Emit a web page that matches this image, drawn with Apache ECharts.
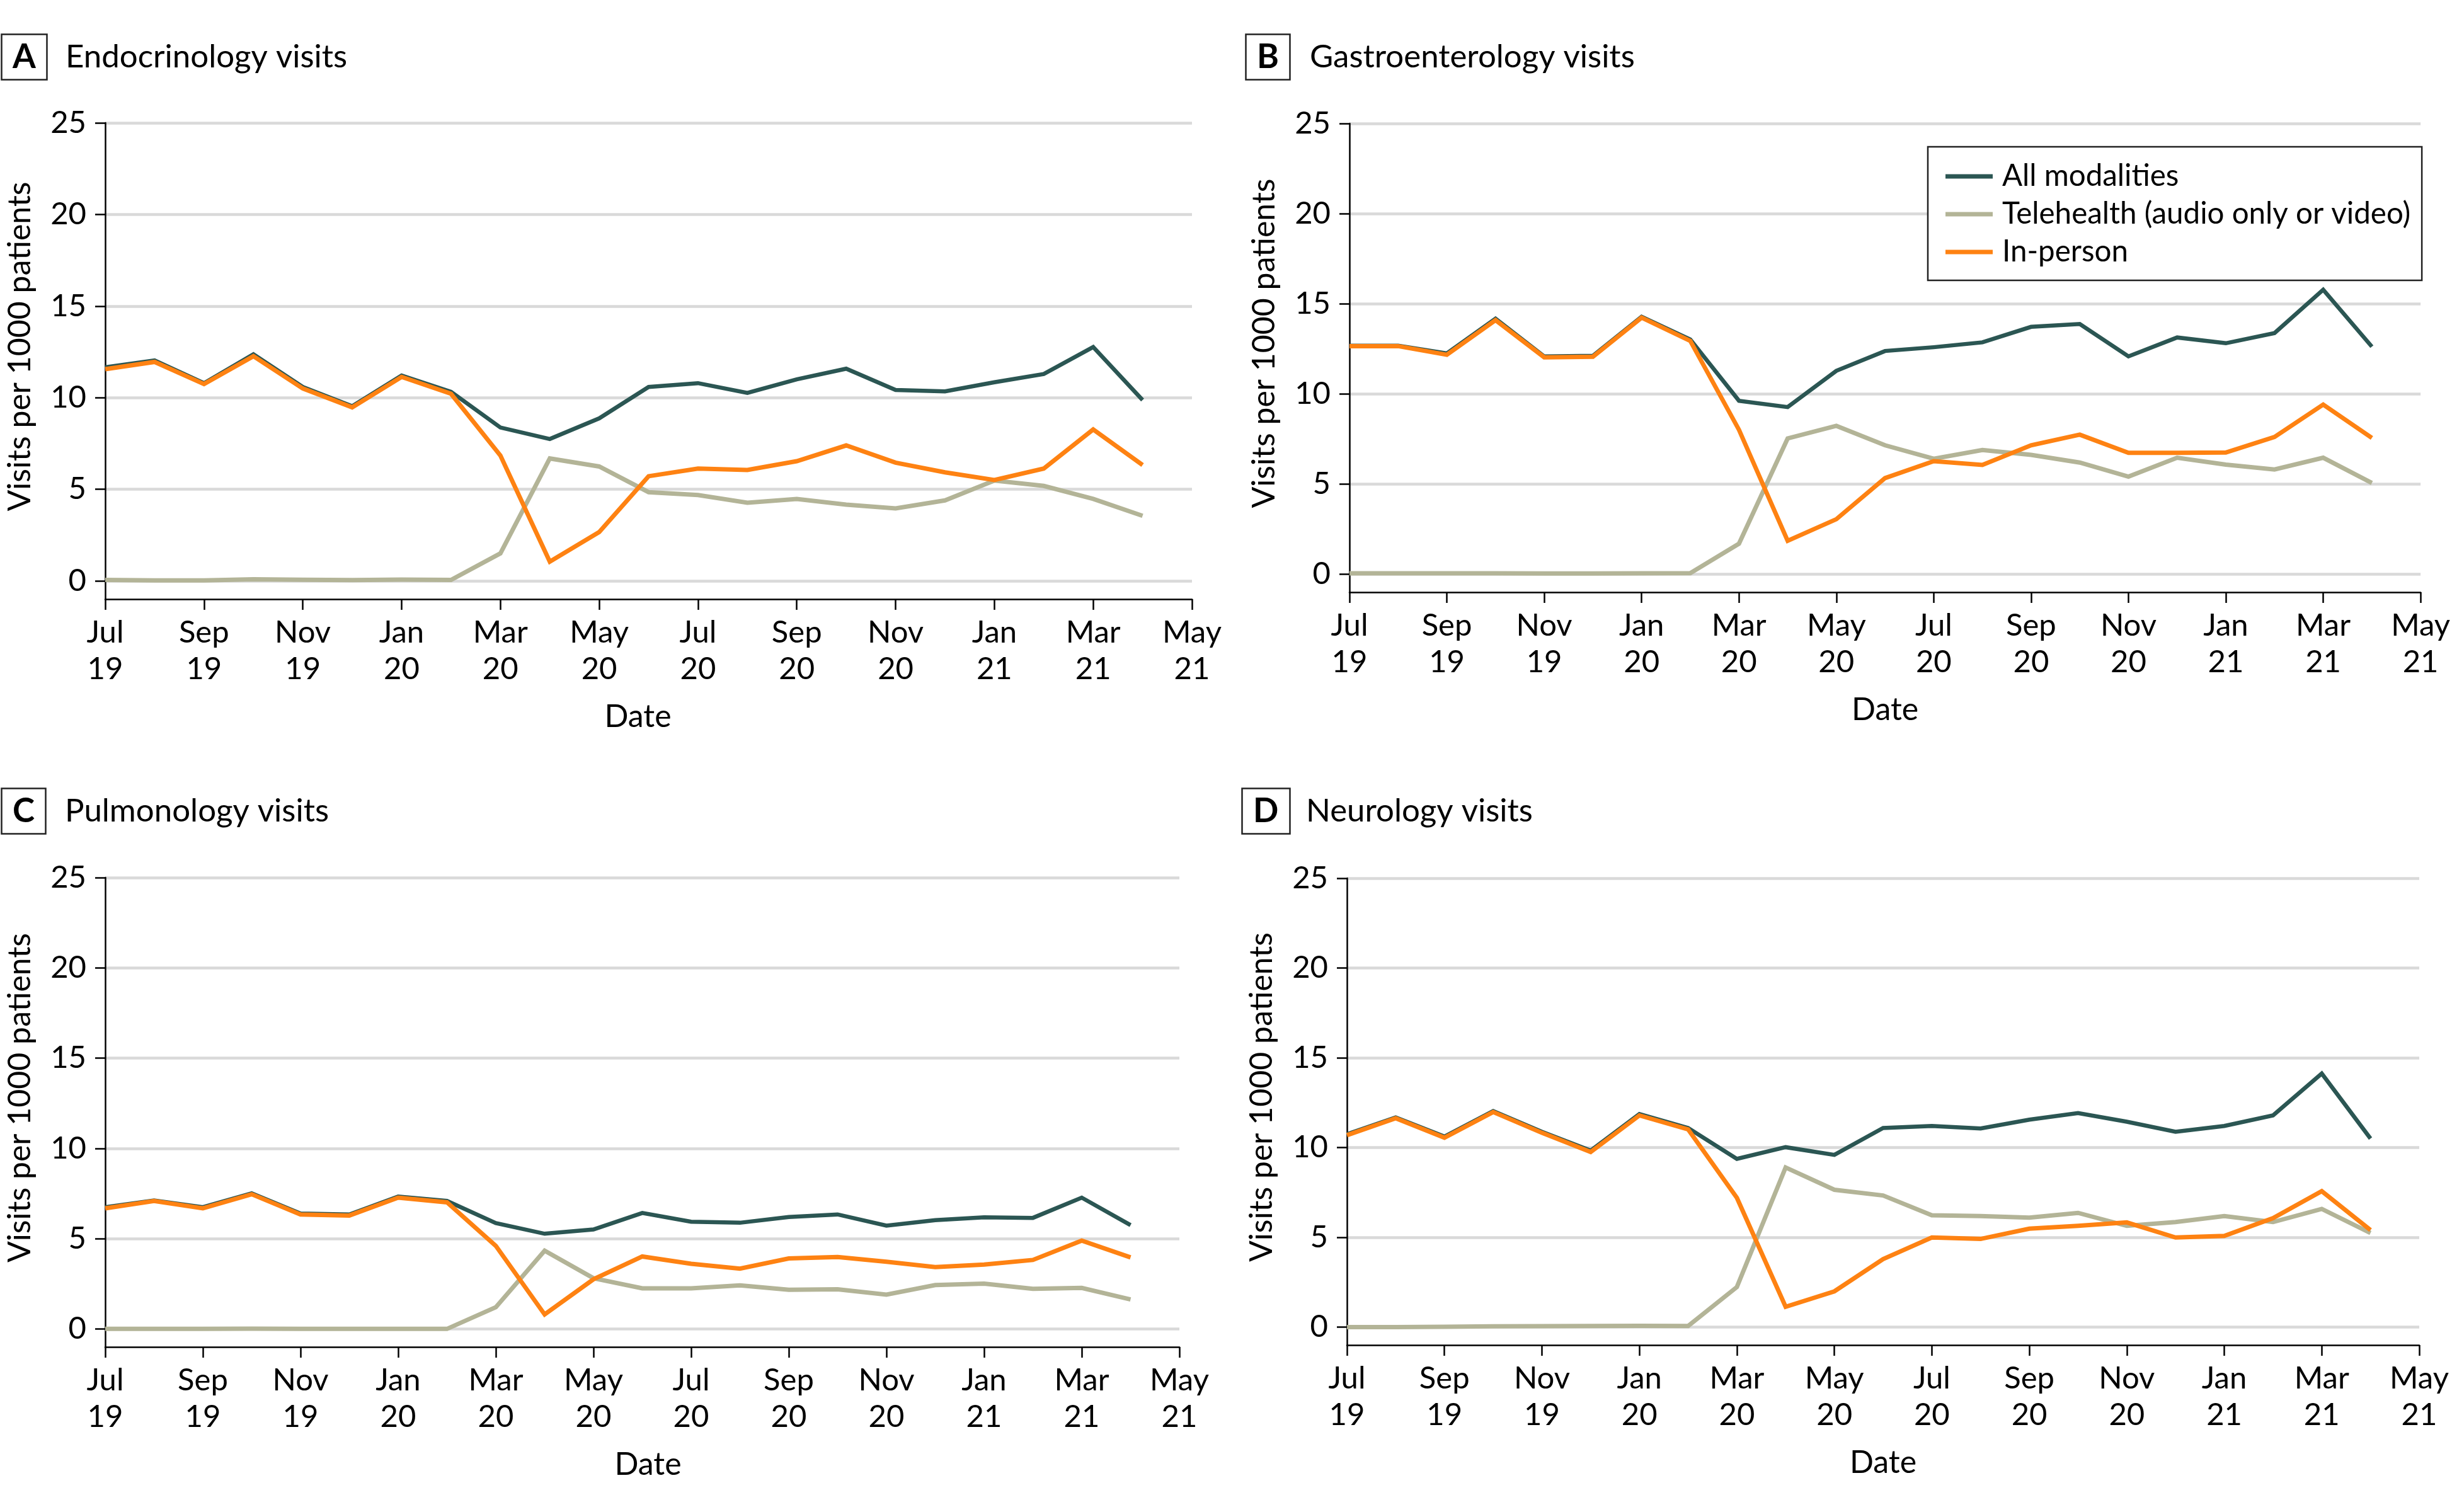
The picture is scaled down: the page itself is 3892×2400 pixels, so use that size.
<!DOCTYPE html>
<html>
<head>
<meta charset="utf-8">
<script src="https://cdn.jsdelivr.net/npm/echarts@6/dist/echarts.min.js"></script>
<style>
html,body{margin:0;padding:0;background:#fff;}
#chart{width:3892px;height:2400px;}
</style>
</head>
<body>
<div id="chart"></div>
<script>
// ---- data ----
const months = ['Jul\n19','Aug\n19','Sep\n19','Oct\n19','Nov\n19','Dec\n19','Jan\n20','Feb\n20','Mar\n20','Apr\n20','May\n20','Jun\n20',
  'Jul\n20','Aug\n20','Sep\n20','Oct\n20','Nov\n20','Dec\n20','Jan\n21','Feb\n21','Mar\n21','Apr\n21','May\n21'];
const yTicks = [0, 5, 10, 15, 20, 25];
const seriesNames = ['All modalities', 'Telehealth (audio only or video)', 'In-person'];
const panelTitles = ['Endocrinology visits', 'Gastroenterology visits', 'Pulmonology visits', 'Neurology visits'];
const panelLetters = ['A', 'B', 'C', 'D'];

// A: Endocrinology
const endoAll      = [11.66,12.03,10.79,12.37,10.58,9.53,11.21,10.32,8.37,7.74,8.87,10.58,10.79,10.26,11.0,11.58,10.42,10.34,10.84,11.29,12.76,9.87];
const endoTele     = [0.05,0.02,0.02,0.08,0.06,0.04,0.07,0.05,1.5,6.68,6.24,4.84,4.68,4.26,4.47,4.16,3.95,4.39,5.47,5.18,4.47,3.55];
const endoInPerson = [11.55,11.95,10.74,12.26,10.5,9.47,11.13,10.21,6.84,1.05,2.66,5.71,6.13,6.05,6.53,7.39,6.45,5.92,5.5,6.13,8.26,6.32];
// B: Gastroenterology
const gastroAll      = [12.67,12.67,12.25,14.17,12.08,12.11,14.28,13.02,9.62,9.27,11.28,12.38,12.59,12.86,13.72,13.88,12.08,13.13,12.81,13.37,15.78,12.62];
const gastroTele     = [0.05,0.05,0.05,0.05,0.04,0.04,0.05,0.06,1.69,7.53,8.23,7.15,6.4,6.89,6.62,6.19,5.41,6.46,6.08,5.81,6.46,5.06];
const gastroInPerson = [12.65,12.65,12.17,14.09,12.03,12.06,14.23,12.94,8.01,1.85,3.05,5.33,6.27,6.06,7.15,7.74,6.73,6.73,6.75,7.61,9.41,7.56];
// C: Pulmonology
const pulmAll      = [6.74,7.11,6.74,7.51,6.39,6.34,7.33,7.09,5.86,5.27,5.51,6.42,5.94,5.88,6.2,6.34,5.72,6.02,6.18,6.15,7.27,5.75];
const pulmTele     = [0.0,0.0,0.0,0.01,0.0,0.0,0.0,0.0,1.2,4.33,2.81,2.25,2.25,2.41,2.17,2.19,1.9,2.43,2.51,2.22,2.27,1.63];
const pulmInPerson = [6.68,7.09,6.68,7.46,6.34,6.28,7.27,7.01,4.6,0.8,2.75,4.01,3.61,3.34,3.9,3.98,3.72,3.42,3.56,3.82,4.89,3.96];
// D: Neurology
const neuroAll      = [10.74,11.68,10.61,12.03,10.88,9.83,11.87,11.09,9.37,10.02,9.59,11.09,11.2,11.06,11.55,11.92,11.44,10.88,11.2,11.79,14.12,10.5];
const neuroTele     = [0.0,0.0,0.02,0.04,0.05,0.06,0.07,0.06,2.23,8.89,7.65,7.33,6.23,6.18,6.1,6.36,5.64,5.85,6.18,5.85,6.58,5.24];
const neuroInPerson = [10.69,11.63,10.55,11.98,10.82,9.75,11.79,11.01,7.2,1.13,1.99,3.79,4.99,4.91,5.48,5.64,5.83,4.99,5.08,6.07,7.57,5.4];

const panelData = [
  [endoAll, endoTele, endoInPerson],
  [gastroAll, gastroTele, gastroInPerson],
  [pulmAll, pulmTele, pulmInPerson],
  [neuroAll, neuroTele, neuroInPerson]
];

// ---- styles / layout ----
const FONT = 'Lato';
const colors = ['#2b5653', '#b3b497', '#fe8212'];
const widths = [6.5, 7, 7];
const W = 3892, H = 2400;
const gridBoxes = [
  {l: 167,  r: 1892, t: 195,  b: 951},
  {l: 2142, r: 3850, t: 196,  b: 940},
  {l: 167,  r: 1872, t: 1393, b: 2138},
  {l: 2138, r: 3840, t: 1394, b: 2135}
];
const datePad = [[0, 34, 0, 0], [0, 0, 0, 0], [0, 0, 0, 18], [0, 0, 0, 0]];
const titleBoxPos = [
  {x: 2, y: 54, tx: 104, ty: 65},
  {x: 1977, y: 54, tx: 2079, ty: 65},
  {x: 2, y: 1251, tx: 103, ty: 1262},
  {x: 1971, y: 1251, tx: 2073, ty: 1262}
];

const grid = [], xAxis = [], yAxis = [], series = [], title = [];
gridBoxes.forEach((g, i) => {
  grid.push({left: g.l, right: W - g.r, top: g.t, bottom: H - g.b, containLabel: false});
  xAxis.push({
    type: 'category', gridIndex: i, data: months, boundaryGap: false,
    axisLine: {show: true, onZero: false, lineStyle: {color: '#000', width: 2.5}},
    axisTick: {show: true, interval: 1, length: 17, lineStyle: {color: '#000', width: 2.5}},
    axisLabel: {interval: 1, fontSize: 49, lineHeight: 58, margin: 24, color: '#000', fontFamily: FONT},
    splitLine: {show: false},
    name: 'Date', nameLocation: 'middle', nameGap: 162,
    nameTextStyle: {fontSize: 50, color: '#000', fontFamily: FONT, padding: datePad[i]}
  });
  yAxis.push({
    type: 'value', gridIndex: i, min: -1, max: 25, interval: 1,
    axisLine: {show: true, lineStyle: {color: '#000', width: 2.5}},
    axisTick: {show: true, customValues: yTicks, length: 16, lineStyle: {color: '#000', width: 2.5}},
    axisLabel: {customValues: yTicks, fontSize: 49, margin: 30, color: '#000', fontFamily: FONT},
    splitLine: {show: true, lineStyle: {color: '#d9d9d9', width: 4.5}},
    name: 'Visits per 1000 patients', nameLocation: 'middle', nameGap: 110,
    nameTextStyle: {fontSize: 50, color: '#000', fontFamily: FONT, padding: [0, 0, 0, 46]}
  });
  panelData[i].forEach((arr, k) => {
    series.push({
      type: 'line', name: seriesNames[k], xAxisIndex: i, yAxisIndex: i,
      data: arr, symbol: 'none', showSymbol: false, silent: true,
      lineStyle: {color: colors[k], width: widths[k], join: 'miter'},
      itemStyle: {color: colors[k]},
      z: 2 + k
    });
  });
  const p = titleBoxPos[i];
  title.push({
    text: panelLetters[i], left: p.x, top: p.y, padding: [10, 18, 10, 18],
    borderColor: '#222', borderWidth: 2.5,
    textStyle: {fontSize: 53, lineHeight: 53, fontWeight: 'bold', color: '#000', fontFamily: FONT}
  });
  title.push({
    text: panelTitles[i], left: p.tx, top: p.ty, padding: 0,
    textStyle: {fontSize: 51, lineHeight: 51, fontWeight: 'normal', color: '#000', fontFamily: FONT}
  });
});

const option = {
  animation: false,
  backgroundColor: '#fff',
  textStyle: {fontFamily: FONT},
  title: title,
  grid: grid,
  xAxis: xAxis,
  yAxis: yAxis,
  legend: {
    data: seriesNames, orient: 'vertical', left: 3060, top: 233,
    padding: [22, 18, 20, 28], itemGap: 10, itemWidth: 75, itemHeight: 7,
    icon: 'rect', borderColor: '#222', borderWidth: 2.5, backgroundColor: '#fff',
    selectedMode: false,
    textStyle: {fontSize: 47.5, lineHeight: 50, color: '#000', fontFamily: FONT, padding: [0, 0, 0, 10]}
  },
  series: series
};

const chart = echarts.init(document.getElementById('chart'), null, {renderer: 'canvas'});
chart.setOption(option);
</script>
</body>
</html>
